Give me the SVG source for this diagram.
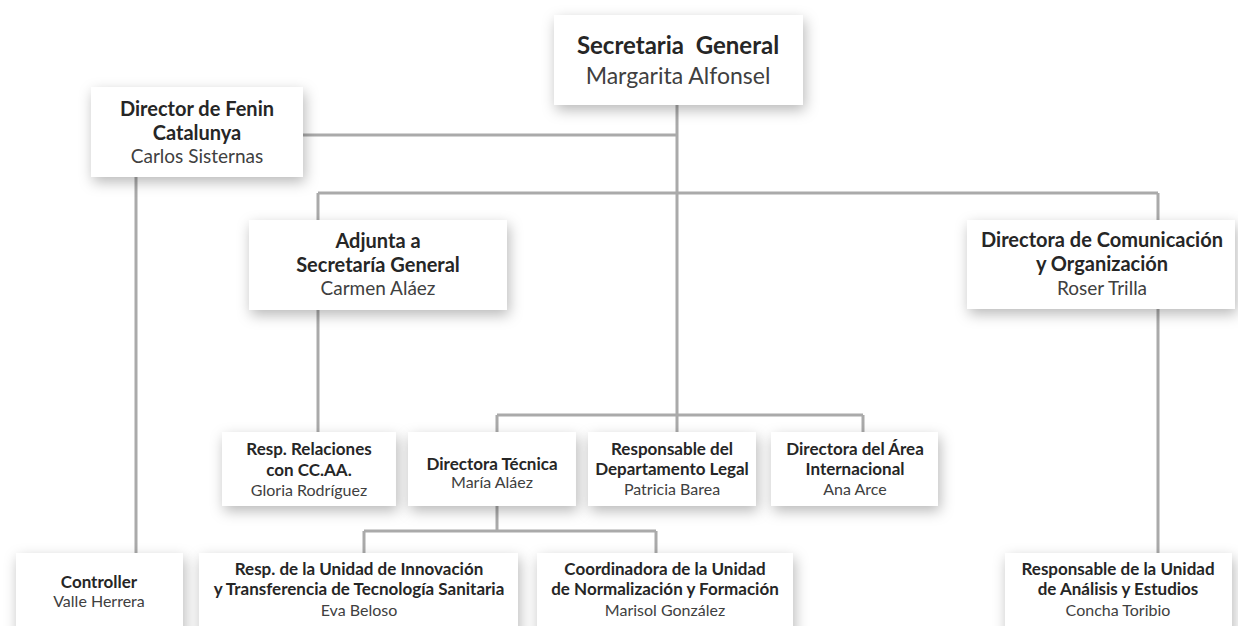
<svg xmlns="http://www.w3.org/2000/svg" width="1238" height="626" viewBox="0 0 1238 626">
<style>
.box{fill:#ffffff;filter:url(#sh)}
.t{font-family:Lato,"Open Sans","Liberation Sans",sans-serif;font-weight:700;fill:#262626;text-anchor:middle}
.n{font-family:Lato,"Open Sans","Liberation Sans",sans-serif;font-weight:400;fill:#404040;text-anchor:middle}
.l{stroke:#aaaaaa;stroke-width:3;fill:none}
.big{font-size:24px}
.bign{font-size:23px}
.mid{font-size:20px}
.midn{font-size:19px}
.sm{font-size:17px}
.smn{font-size:16px}
</style>
<defs>
<filter id="sh" x="-20%" y="-30%" width="140%" height="170%">
<feDropShadow dx="2" dy="5" stdDeviation="7" flood-color="#000" flood-opacity="0.28"/>
</filter>
</defs>
<rect width="1238" height="626" fill="#ffffff"/>
<g id="connectors" class="l">
<path d="M677 105V432"/>
<path d="M303 135H677"/>
<path d="M136 177V553"/>
<path d="M318 193H1158"/>
<path d="M318 193V432"/>
<path d="M1158 193V553"/>
<path d="M497 415H863"/>
<path d="M497 415V432M863 415V432"/>
<path d="M497 506V531"/>
<path d="M364 531H656"/>
<path d="M364 531V553M656 531V553"/>
</g>
<g id="secretaria">
<rect class="box" x="554" y="15" width="249" height="90"/>
<text class="t big" x="678" y="54" xml:space="preserve">Secretaria  General</text>
<text class="n bign" x="678" y="84">Margarita Alfonsel</text>
</g>
<g id="fenin">
<rect class="box" x="91" y="87" width="212" height="90"/>
<text class="t mid" x="197" y="116">Director de Fenin</text>
<text class="t mid" x="197" y="140">Catalunya</text>
<text class="n midn" x="197" y="163">Carlos Sisternas</text>
</g>
<g id="adjunta">
<rect class="box" x="249" y="220" width="258" height="90"/>
<text class="t mid" x="378" y="248">Adjunta a</text>
<text class="t mid" x="378" y="272">Secretaría General</text>
<text class="n midn" x="378" y="295">Carmen Aláez</text>
</g>
<g id="comunicacion">
<rect class="box" x="967" y="220" width="268" height="89"/>
<text class="t mid" x="1102" y="247">Directora de Comunicación</text>
<text class="t mid" x="1102" y="271">y Organización</text>
<text class="n midn" x="1102" y="295">Roser Trilla</text>
</g>
<g id="relaciones">
<rect class="box" x="222" y="432" width="174" height="74"/>
<text class="t sm" x="309" y="455">Resp. Relaciones</text>
<text class="t sm" x="309" y="476">con CC.AA.</text>
<text class="n smn" x="309" y="496">Gloria Rodríguez</text>
</g>
<g id="tecnica">
<rect class="box" x="408" y="432" width="168" height="74"/>
<text class="t sm" x="492" y="470">Directora Técnica</text>
<text class="n smn" x="492" y="488">María Aláez</text>
</g>
<g id="legal">
<rect class="box" x="588" y="432" width="168" height="74"/>
<text class="t sm" x="672" y="455">Responsable del</text>
<text class="t sm" x="672" y="475">Departamento Legal</text>
<text class="n smn" x="672" y="495">Patricia Barea</text>
</g>
<g id="internacional">
<rect class="box" x="771" y="432" width="167" height="74"/>
<text class="t sm" x="855" y="455">Directora del Área</text>
<text class="t sm" x="855" y="475">Internacional</text>
<text class="n smn" x="855" y="495">Ana Arce</text>
</g>
<g id="controller">
<rect class="box" x="16" y="553" width="167" height="90"/>
<text class="t sm" x="99" y="588">Controller</text>
<text class="n smn" x="99" y="607">Valle Herrera</text>
</g>
<g id="innovacion">
<rect class="box" x="199" y="553" width="319" height="90"/>
<text class="t sm" x="359" y="575">Resp. de la Unidad de Innovación</text>
<text class="t sm" x="359" y="595">y Transferencia de Tecnología Sanitaria</text>
<text class="n smn" x="359" y="616">Eva Beloso</text>
</g>
<g id="normalizacion">
<rect class="box" x="537" y="553" width="256" height="90"/>
<text class="t sm" x="665" y="575">Coordinadora de la Unidad</text>
<text class="t sm" x="665" y="595">de Normalización y Formación</text>
<text class="n smn" x="665" y="616">Marisol González</text>
</g>
<g id="analisis">
<rect class="box" x="1005" y="553" width="227" height="90"/>
<text class="t sm" x="1118" y="575">Responsable de la Unidad</text>
<text class="t sm" x="1118" y="595">de Análisis y Estudios</text>
<text class="n smn" x="1118" y="616">Concha Toribio</text>
</g>
</svg>
